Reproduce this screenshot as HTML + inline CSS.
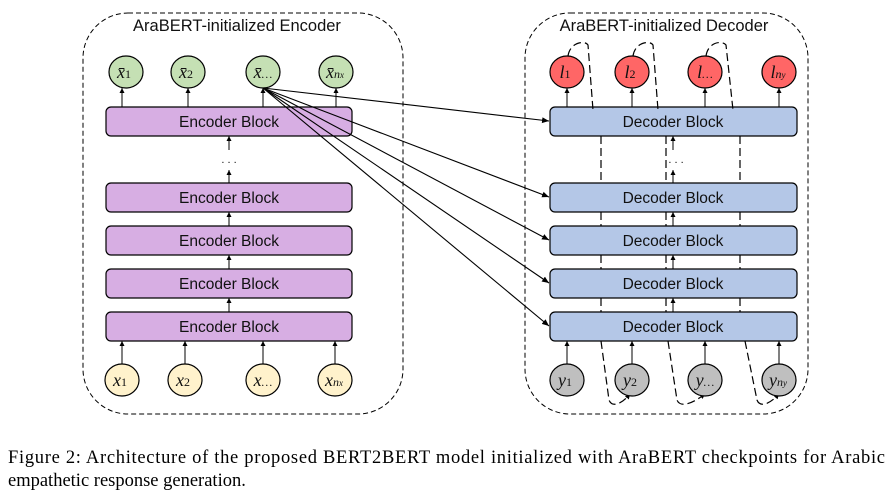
<!DOCTYPE html>
<html><head><meta charset="utf-8"><style>
html,body{margin:0;padding:0;background:#fff;width:893px;height:501px;overflow:hidden}
svg{display:block}
.bt{font-family:"Liberation Sans",sans-serif;font-size:15.5px;fill:#111;text-anchor:middle}
.m{font-family:"Liberation Serif",serif;font-style:italic;font-size:18px;fill:#111;text-anchor:middle}
.s{font-size:12px}
</style></head><body>
<svg width="893" height="501" viewBox="0 0 893 501" xmlns="http://www.w3.org/2000/svg">
<defs><marker id="a" markerWidth="8" markerHeight="8" refX="7" refY="4" orient="auto" markerUnits="userSpaceOnUse"><path d="M0,1 L7,4 L0,7z" fill="#000"/></marker>
<marker id="sa" markerWidth="6" markerHeight="6" refX="5" refY="3" orient="auto" markerUnits="userSpaceOnUse"><path d="M0,0.5 L5,3 L0,5.5z" fill="#000"/></marker></defs>
<rect x="83" y="13" width="320" height="401" rx="45" fill="none" stroke="#000" stroke-dasharray="5,3"/>
<rect x="525" y="13" width="283" height="401" rx="45" fill="none" stroke="#000" stroke-dasharray="5,3"/>
<text x="237" y="31" class="bt" style="font-size:16.5px">AraBERT-initialized Encoder</text>
<text x="664" y="31" class="bt" style="font-size:16.5px">AraBERT-initialized Decoder</text>
<g stroke="#000" stroke-width="1.2">
<g fill="#d7aee3">
<rect x="106" y="107" width="246" height="29" rx="5"/>
<rect x="106" y="183" width="246" height="29" rx="5"/>
<rect x="106" y="226" width="246" height="29" rx="5"/>
<rect x="106" y="269" width="246" height="29" rx="5"/>
<rect x="106" y="312" width="246" height="29" rx="5"/>
</g>
<g fill="#b4c7e7">
<rect x="550" y="107" width="247" height="29" rx="5"/>
<rect x="550" y="183" width="247" height="29" rx="5"/>
<rect x="550" y="226" width="247" height="29" rx="5"/>
<rect x="550" y="269" width="247" height="29" rx="5"/>
<rect x="550" y="312" width="247" height="29" rx="5"/>
</g>
</g>
<g class="bt">
<text x="229" y="127">Encoder Block</text><text x="229" y="203">Encoder Block</text><text x="229" y="246">Encoder Block</text><text x="229" y="289">Encoder Block</text><text x="229" y="332">Encoder Block</text>
<text x="673" y="127">Decoder Block</text><text x="673" y="203">Decoder Block</text><text x="673" y="246">Decoder Block</text><text x="673" y="289">Decoder Block</text><text x="673" y="332">Decoder Block</text>
</g>
<g stroke="#000" stroke-width="1" marker-end="url(#sa)">
<line x1="229" y1="183" x2="229" y2="170"/><line x1="229" y1="226" x2="229" y2="212"/><line x1="229" y1="269" x2="229" y2="255"/><line x1="229" y1="312" x2="229" y2="298"/><line x1="229" y1="150" x2="229" y2="136"/>
<line x1="673" y1="183" x2="673" y2="170"/><line x1="673" y1="226" x2="673" y2="212"/><line x1="673" y1="269" x2="673" y2="255"/><line x1="673" y1="312" x2="673" y2="298"/><line x1="673" y1="150" x2="673" y2="136"/>
<line x1="122" y1="107" x2="122" y2="88"/><line x1="188" y1="107" x2="188" y2="88"/><line x1="263" y1="107" x2="263" y2="88"/><line x1="336" y1="107" x2="336" y2="88"/>
<line x1="567" y1="107" x2="567" y2="88"/><line x1="632" y1="107" x2="632" y2="88"/><line x1="705" y1="107" x2="705" y2="88"/><line x1="779" y1="107" x2="779" y2="88"/>
<line x1="122" y1="365" x2="122" y2="341"/><line x1="185" y1="365" x2="185" y2="341"/><line x1="263" y1="365" x2="263" y2="341"/><line x1="335" y1="365" x2="335" y2="341"/>
<line x1="567" y1="365" x2="567" y2="341"/><line x1="632" y1="365" x2="632" y2="341"/><line x1="705" y1="365" x2="705" y2="341"/><line x1="779" y1="365" x2="779" y2="341"/>
</g>
<text x="229" y="163" class="bt" style="font-size:11px">. . .</text>
<text x="676" y="163" class="bt" style="font-size:11px">. . .</text>
<g stroke="#000" stroke-width="1.1" marker-end="url(#a)">
<line x1="263" y1="88" x2="549" y2="121"/><line x1="263" y1="88" x2="549" y2="197"/><line x1="263" y1="88" x2="549" y2="240"/><line x1="263" y1="88" x2="549" y2="283"/><line x1="263" y1="88" x2="549" y2="326"/>
</g>
<g fill="none" stroke="#000" stroke-width="1.2" stroke-dasharray="8,4">
<path d="M568,56 C570,42 585,40 588,45 L593,110"/><path d="M601,136 L601,180"/><path d="M601,212 L601,226"/>
<path d="M601,255 L601,269"/><path d="M601,298 L601,312"/><path d="M601,341 L609,400 C612,408 622,404 630,394" marker-end="url(#sa)"/>
<path d="M633,56 C635,42 650,40 653,45 L658,110"/><path d="M666,136 L666,180"/><path d="M666,212 L666,226"/>
<path d="M666,255 L666,269"/><path d="M666,298 L666,312"/><path d="M668,341 L677,400 C680,408 692,404 705,394" marker-end="url(#sa)"/>
<path d="M706,56 C708,42 722,40 726,45 L733,110"/><path d="M740,136 L740,180"/><path d="M740,212 L740,226"/>
<path d="M740,255 L740,269"/><path d="M740,298 L740,312"/><path d="M745,341 L757,400 C760,408 770,404 779,394" marker-end="url(#sa)"/>
</g>
<g stroke="#000" stroke-width="1.2">
<g fill="#c5e0b4"><ellipse cx="126" cy="72" rx="17" ry="16"/><ellipse cx="188" cy="72" rx="17" ry="16"/><ellipse cx="263" cy="72" rx="17" ry="16"/><ellipse cx="336" cy="72" rx="17" ry="16"/></g>
<g fill="#ff6666"><ellipse cx="567" cy="72" rx="17" ry="16"/><ellipse cx="632" cy="72" rx="17" ry="16"/><ellipse cx="705" cy="72" rx="17" ry="16"/><ellipse cx="779" cy="72" rx="17" ry="16"/></g>
<g fill="#fff2cc"><ellipse cx="122" cy="380" rx="17" ry="16"/><ellipse cx="185" cy="380" rx="17" ry="16"/><ellipse cx="263" cy="380" rx="17" ry="16"/><ellipse cx="335" cy="380" rx="17" ry="16"/></g>
<g fill="#bfbfbf"><ellipse cx="567" cy="380" rx="17" ry="16"/><ellipse cx="632" cy="380" rx="17" ry="16"/><ellipse cx="705" cy="380" rx="17" ry="16"/><ellipse cx="779" cy="380" rx="17" ry="16"/></g>
</g>
<g class="m">
<text x="124" y="78">x̄<tspan class="s" font-style="normal">1</tspan></text><text x="186" y="78">x̄<tspan class="s" font-style="normal">2</tspan></text><text x="263" y="78">x̄<tspan class="s">…</tspan></text><text x="335" y="78">x̄<tspan class="s">n<tspan font-size="9">x</tspan></tspan></text>
<text x="565" y="78">l<tspan class="s" font-style="normal">1</tspan></text><text x="630" y="78">l<tspan class="s" font-style="normal">2</tspan></text><text x="705" y="78">l<tspan class="s">…</tspan></text><text x="778" y="78">l<tspan class="s">n<tspan font-size="9">y</tspan></tspan></text>
<text x="120" y="386">x<tspan class="s" font-style="normal">1</tspan></text><text x="183" y="386">x<tspan class="s" font-style="normal">2</tspan></text><text x="263" y="386">x<tspan class="s">…</tspan></text><text x="334" y="386">x<tspan class="s">n<tspan font-size="9">x</tspan></tspan></text>
<text x="565" y="386">y<tspan class="s" font-style="normal">1</tspan></text><text x="630" y="386">y<tspan class="s" font-style="normal">2</tspan></text><text x="705" y="386">y<tspan class="s">…</tspan></text><text x="778" y="386">y<tspan class="s">n<tspan font-size="9">y</tspan></tspan></text>
</g>
<g font-family="'Liberation Serif',serif" font-size="18.5" fill="#000">
<text x="8" y="463" textLength="877" lengthAdjust="spacing">Figure 2: Architecture of the proposed BERT2BERT model initialized with AraBERT checkpoints for Arabic</text>
<text x="8" y="486">empathetic response generation.</text>
</g>
</svg>
</body></html>
